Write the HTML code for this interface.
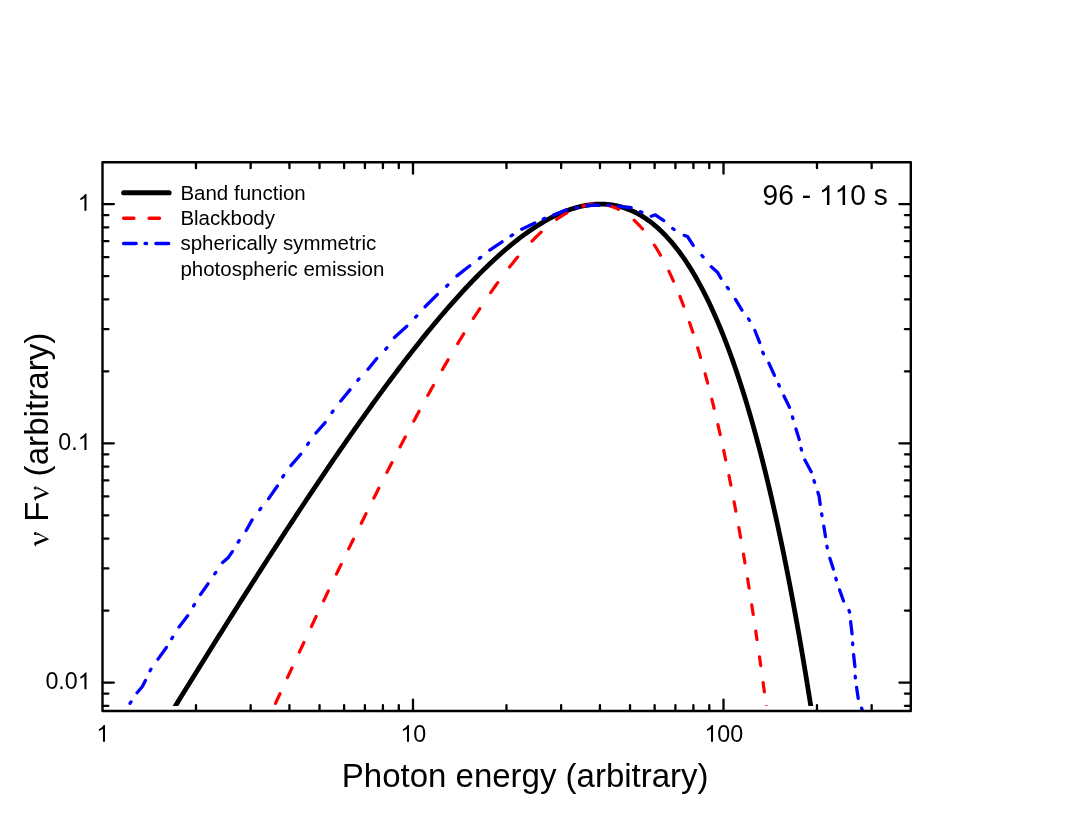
<!DOCTYPE html>
<html><head><meta charset="utf-8"><title>Spectrum 96 - 110 s</title>
<style>html,body{margin:0;padding:0;background:#ffffff;overflow:hidden}body{width:1067px;height:817px;position:relative;font-family:"Liberation Sans",sans-serif}</style></head>
<body>
<svg width="1067" height="817" viewBox="0 0 1067 817" style="position:absolute;left:0;top:0;display:block;will-change:transform">
<rect x="0" y="0" width="1067" height="817" fill="#ffffff"/>
<clipPath id="cp"><rect x="102.5" y="162.3" width="808.3" height="543.7"/></clipPath>
<clipPath id="cf"><rect x="102.5" y="162.3" width="808.3" height="547.7"/></clipPath>
<path d="M169.38 715.75 L171.40 712.46 L173.42 709.18 L175.44 705.90 L177.46 702.63 L179.48 699.35 L181.50 696.08 L183.52 692.81 L185.54 689.54 L187.56 686.27 L189.58 683.01 L191.60 679.75 L193.62 676.49 L195.64 673.24 L197.66 669.98 L199.68 666.73 L201.70 663.49 L203.72 660.24 L205.74 657.00 L207.76 653.76 L209.78 650.52 L211.80 647.29 L213.82 644.06 L215.84 640.83 L217.86 637.60 L219.88 634.38 L221.90 631.16 L223.92 627.94 L225.94 624.73 L227.96 621.52 L229.98 618.31 L232.00 615.11 L234.03 611.91 L236.05 608.71 L238.07 605.52 L240.09 602.33 L242.11 599.14 L244.13 595.96 L246.15 592.78 L248.17 589.61 L250.19 586.44 L252.21 583.27 L254.23 580.11 L256.25 576.95 L258.27 573.79 L260.29 570.64 L262.31 567.49 L264.33 564.35 L266.35 561.21 L268.37 558.07 L270.39 554.94 L272.41 551.82 L274.43 548.69 L276.45 545.58 L278.47 542.46 L280.49 539.36 L282.51 536.25 L284.53 533.15 L286.55 530.06 L288.57 526.97 L290.59 523.89 L292.61 520.81 L294.63 517.74 L296.65 514.67 L298.67 511.61 L300.69 508.55 L302.71 505.50 L304.73 502.46 L306.75 499.42 L308.77 496.38 L310.79 493.36 L312.81 490.33 L314.83 487.32 L316.85 484.31 L318.87 481.30 L320.89 478.31 L322.91 475.32 L324.93 472.33 L326.95 469.35 L328.97 466.38 L330.99 463.42 L333.01 460.46 L335.03 457.51 L337.05 454.57 L339.07 451.63 L341.09 448.71 L343.11 445.79 L345.13 442.87 L347.15 439.97 L349.17 437.07 L351.19 434.18 L353.21 431.30 L355.23 428.43 L357.25 425.56 L359.27 422.70 L361.29 419.86 L363.31 417.02 L365.33 414.19 L367.35 411.37 L369.37 408.55 L371.39 405.75 L373.41 402.96 L375.43 400.17 L377.45 397.40 L379.47 394.63 L381.49 391.88 L383.51 389.13 L385.53 386.40 L387.55 383.68 L389.57 380.96 L391.59 378.26 L393.61 375.57 L395.63 372.89 L397.65 370.22 L399.67 367.56 L401.69 364.91 L403.71 362.28 L405.73 359.65 L407.75 357.04 L409.77 354.45 L411.79 351.86 L413.81 349.29 L415.83 346.73 L417.85 344.18 L419.87 341.64 L421.89 339.12 L423.91 336.62 L425.93 334.12 L427.95 331.64 L429.97 329.18 L431.99 326.73 L434.02 324.29 L436.04 321.87 L438.06 319.47 L440.08 317.07 L442.10 314.70 L444.12 312.34 L446.14 310.00 L448.16 307.67 L450.18 305.36 L452.20 303.07 L454.22 300.79 L456.24 298.53 L458.26 296.29 L460.28 294.07 L462.30 291.86 L464.32 289.68 L466.34 287.51 L468.36 285.36 L470.38 283.23 L472.40 281.12 L474.42 279.03 L476.44 276.96 L478.46 274.91 L480.48 272.88 L482.50 270.87 L484.52 268.88 L486.54 266.92 L488.56 264.98 L490.58 263.06 L492.60 261.16 L494.62 259.28 L496.64 257.43 L498.66 255.60 L500.68 253.80 L502.70 252.02 L504.72 250.27 L506.74 248.54 L508.76 246.83 L510.78 245.16 L512.80 243.50 L514.82 241.88 L516.84 240.28 L518.86 238.71 L520.88 237.17 L522.90 235.66 L524.92 234.17 L526.94 232.72 L528.96 231.29 L530.98 229.90 L533.00 228.53 L535.02 227.20 L537.04 225.90 L539.06 224.63 L541.08 223.39 L543.10 222.18 L545.12 221.01 L547.14 219.88 L549.16 218.77 L551.18 217.71 L553.20 216.67 L555.22 215.68 L557.24 214.72 L559.26 213.80 L561.28 212.91 L563.30 212.07 L565.32 211.26 L567.34 210.49 L569.36 209.77 L571.38 209.08 L573.40 208.44 L575.42 207.83 L577.44 207.27 L579.46 206.75 L581.48 206.28 L583.50 205.85 L585.52 205.47 L587.54 205.13 L589.56 204.84 L591.58 204.59 L593.60 204.40 L595.62 204.25 L597.64 204.15 L599.66 204.10 L601.68 204.11 L603.70 204.16 L605.72 204.27 L607.74 204.43 L609.76 204.65 L611.78 204.92 L613.80 205.24 L615.82 205.62 L617.84 206.06 L619.86 206.56 L621.88 207.12 L623.90 207.74 L625.92 208.41 L627.94 209.16 L629.96 209.96 L631.98 210.83 L634.00 211.76 L636.03 212.75 L638.05 213.82 L640.07 214.95 L642.09 216.15 L644.11 217.42 L646.13 218.76 L648.15 220.18 L650.17 221.66 L652.19 223.22 L654.21 224.86 L656.23 226.57 L658.25 228.36 L660.27 230.23 L662.29 232.18 L664.31 234.21 L666.33 236.32 L668.35 238.51 L670.37 240.79 L672.39 243.16 L674.41 245.61 L676.43 248.15 L678.45 250.79 L680.47 253.51 L682.49 256.33 L684.51 259.24 L686.53 262.24 L688.55 265.35 L690.57 268.55 L692.59 271.85 L694.61 275.25 L696.63 278.76 L698.65 282.37 L700.67 286.09 L702.69 289.91 L704.71 293.85 L706.73 297.89 L708.75 302.05 L710.77 306.32 L712.79 310.71 L714.81 315.22 L716.83 319.85 L718.85 324.59 L720.87 329.47 L722.89 334.46 L724.91 339.59 L726.93 344.84 L728.95 350.22 L730.97 355.74 L732.99 361.39 L735.01 367.18 L737.03 373.11 L739.05 379.17 L741.07 385.39 L743.09 391.74 L745.11 398.25 L747.13 404.90 L749.15 411.71 L751.17 418.67 L753.19 425.79 L755.21 433.07 L757.23 440.51 L759.25 448.11 L761.27 455.88 L763.29 463.82 L765.31 471.93 L767.33 480.21 L769.35 488.67 L771.37 497.31 L773.39 506.13 L775.41 515.14 L777.43 524.33 L779.45 533.72 L781.47 543.30 L783.49 553.07 L785.51 563.05 L787.53 573.22 L789.55 583.60 L791.57 594.19 L793.59 604.99 L795.61 616.01 L797.63 627.24 L799.65 638.70 L801.67 650.38 L803.69 662.29 L805.71 674.43 L807.73 686.80 L809.75 699.41 L811.77 712.27 L813.79 725.37" fill="none" stroke="#000000" stroke-width="4.8" stroke-linejoin="round" clip-path="url(#cp)"/>
<path d="M275.47 703.45 L276.22 701.83 L276.97 700.21 L277.72 698.58 L278.47 696.96 L279.22 695.34 L279.97 693.72 M287.48 677.55 L288.23 675.94 L288.98 674.32 L289.73 672.71 L290.48 671.10 L291.23 669.49 L291.98 667.88 M299.36 652.10 L300.11 650.50 L300.86 648.90 L301.62 647.30 L302.37 645.70 L303.12 644.10 L303.87 642.50 M311.37 626.58 L312.12 624.99 L312.87 623.41 L313.62 621.82 L314.38 620.23 L315.13 618.65 L315.88 617.07 L316.13 616.54 M323.63 600.76 L324.38 599.19 L325.13 597.62 L325.88 596.05 L326.63 594.48 L327.39 592.91 L328.14 591.34 L328.39 590.82 M336.39 574.17 L337.14 572.61 L337.89 571.06 L338.64 569.51 L339.39 567.95 L340.14 566.40 L340.90 564.85 L341.15 564.34 M348.65 548.91 L349.40 547.37 L350.15 545.84 L350.90 544.30 L351.65 542.77 L352.40 541.24 L353.16 539.71 L353.41 539.20 M361.29 523.22 L362.04 521.70 L362.79 520.19 L363.54 518.68 L364.29 517.17 L365.04 515.66 L365.79 514.15 L366.04 513.65 M373.80 498.15 L374.55 496.66 L375.30 495.17 L376.05 493.68 L376.80 492.20 L377.55 490.71 L378.30 489.23 L378.80 488.24 M386.93 472.29 L387.68 470.82 L388.43 469.36 L389.18 467.90 L389.93 466.44 L390.68 464.99 L391.43 463.53 L391.94 462.57 M400.07 446.94 L400.94 445.27 L401.82 443.60 L402.69 441.93 L403.57 440.27 L404.44 438.61 L405.32 436.96 M413.83 421.01 L414.70 419.38 L415.58 417.75 L416.45 416.13 L417.33 414.52 L418.21 412.90 L419.08 411.29 M427.84 395.35 L428.71 393.77 L429.59 392.20 L430.46 390.63 L431.34 389.06 L432.22 387.50 L433.09 385.94 L433.34 385.49 M442.35 369.67 L443.22 368.15 L444.10 366.64 L444.98 365.13 L445.85 363.62 L446.73 362.12 L447.60 360.62 L448.10 359.77 M457.74 343.59 L458.74 341.94 L459.74 340.29 L460.74 338.65 L461.74 337.02 L462.74 335.39 L463.74 333.77 M473.37 318.48 L474.37 316.93 L475.37 315.38 L476.38 313.84 L477.38 312.30 L478.38 310.78 L479.38 309.26 L479.75 308.69 M490.64 292.66 L491.76 291.05 L492.89 289.45 L494.01 287.87 L495.14 286.29 L496.27 284.72 L497.39 283.17 L497.77 282.65 M509.53 267.09 L510.90 265.36 L512.28 263.64 L513.65 261.93 L515.03 260.25 L516.41 258.58 L517.66 257.09 M532.04 241.05 L533.54 239.51 L535.05 238.00 L536.55 236.51 L538.05 235.05 L539.55 233.62 L541.05 232.22 L541.18 232.10 M556.56 219.45 L558.19 218.31 L559.82 217.20 L561.44 216.14 L563.07 215.12 L564.69 214.13 L566.32 213.19 L566.57 213.05 M582.96 206.11 L584.71 205.65 L586.46 205.24 L588.21 204.90 L589.96 204.62 L591.71 204.39 L593.34 204.24 M608.23 205.46 L609.85 205.89 L611.48 206.39 L613.11 206.94 L614.73 207.56 L616.36 208.25 L617.99 209.00 L618.49 209.25 M634.12 220.23 L635.50 221.52 L636.87 222.86 L638.25 224.26 L639.63 225.72 L641.00 227.23 L642.38 228.81 L642.50 228.95 M654.39 245.07 L655.39 246.64 L656.39 248.24 L657.39 249.88 L658.39 251.55 L659.39 253.26 L660.39 255.01 L660.52 255.23 M668.90 271.28 L669.65 272.85 L670.40 274.44 L671.15 276.04 L671.90 277.67 L672.65 279.33 L673.40 281.00 M679.91 296.45 L680.53 298.02 L681.16 299.62 L681.78 301.22 L682.41 302.85 L683.04 304.49 L683.66 306.15 M689.54 322.55 L690.04 324.02 L690.54 325.50 L691.04 326.99 L691.54 328.48 L692.04 330.00 L692.54 331.52 L692.79 332.28 M697.67 347.78 L698.17 349.44 L698.67 351.10 L699.17 352.78 L699.67 354.46 L700.17 356.16 L700.55 357.45 M705.18 373.84 L705.55 375.21 L705.93 376.59 L706.30 377.98 L706.68 379.38 L707.05 380.78 L707.43 382.19 L707.68 383.14 M711.81 399.18 L712.18 400.68 L712.56 402.19 L712.93 403.71 L713.31 405.24 L713.68 406.77 L714.06 408.31 M717.94 424.66 L718.31 426.29 L718.69 427.92 L719.06 429.57 L719.44 431.21 L719.81 432.87 L720.19 434.54 M723.69 450.46 L723.94 451.62 L724.19 452.79 L724.44 453.96 L724.69 455.14 L724.94 456.32 L725.19 457.50 L725.44 458.68 L725.69 459.87 M728.95 475.67 L729.20 476.91 L729.45 478.15 L729.70 479.40 L729.95 480.65 L730.20 481.91 L730.45 483.17 L730.70 484.43 L730.82 485.07 M734.08 501.86 L734.33 503.18 L734.58 504.50 L734.83 505.83 L735.08 507.16 L735.33 508.49 L735.58 509.83 L735.83 511.17 M738.83 527.59 L739.08 528.98 L739.33 530.38 L739.58 531.78 L739.83 533.19 L740.08 534.60 L740.33 536.01 L740.58 537.43 M743.46 554.03 L743.71 555.50 L743.96 556.98 L744.21 558.45 L744.46 559.94 L744.71 561.42 L744.96 562.91 M747.59 578.82 L747.84 580.36 L748.09 581.90 L748.34 583.45 L748.59 585.00 L748.84 586.55 L749.09 588.12 M751.71 604.76 L751.96 606.38 L752.21 607.99 L752.46 609.61 L752.71 611.23 L752.96 612.86 L753.21 614.50 M755.72 631.07 L755.84 631.91 L755.97 632.76 L756.09 633.60 L756.22 634.44 L756.34 635.29 L756.47 636.14 L756.59 636.98 L756.72 637.83 L756.84 638.68 L756.97 639.53 M759.47 656.80 L759.59 657.67 L759.72 658.55 L759.84 659.43 L759.97 660.30 L760.10 661.18 L760.22 662.07 L760.35 662.95 L760.47 663.83 L760.60 664.72 L760.72 665.60 M763.10 682.66 L763.22 683.57 L763.35 684.48 L763.47 685.39 L763.60 686.31 L763.72 687.22 L763.85 688.14 L763.97 689.05 L764.10 689.97 L764.22 690.89 L764.35 691.81 M766.35 706.71 L766.48 707.65 L766.60 708.59 L766.73 709.54 L766.85 710.48 L766.98 711.43 L767.10 712.38 L767.23 713.32 L767.35 714.27 L767.48 715.23 L767.60 716.18" fill="none" stroke="#ff0000" stroke-width="3.2" stroke-linecap="round" stroke-linejoin="round" clip-path="url(#cp)"/>
<path d="M130.03 703.31 L130.97 701.89 M137.06 692.78 L142.20 686.70 L145.45 680.49 M150.07 670.73 L150.93 669.27 M158.02 659.15 L166.38 647.45 M171.75 638.62 L172.65 637.18 M179.04 627.06 L187.66 615.84 M193.57 605.93 L194.43 604.47 M200.52 594.45 L207.98 583.85 M214.82 573.80 L215.78 572.40 M222.61 562.44 L228.40 557.40 L232.39 551.65 M238.24 542.01 L239.16 540.59 M246.17 530.52 L252.13 519.88 M259.78 509.67 L260.82 508.33 M268.61 498.65 L277.39 486.05 M282.74 476.91 L283.66 475.49 M290.86 465.58 L300.74 454.22 M307.61 444.39 L308.59 443.01 M315.96 432.99 L325.14 422.61 M332.00 412.49 L333.00 411.11 M340.75 401.07 L349.95 389.83 M357.84 380.24 L358.96 378.96 M368.04 369.27 L376.76 358.43 M385.75 349.15 L386.85 347.85 M394.41 337.43 L406.79 326.17 M415.62 317.12 L416.78 315.88 M425.09 306.71 L437.41 294.39 M446.58 286.19 L447.82 285.01 M456.93 275.86 L469.77 265.74 M479.33 258.42 L480.67 257.38 M489.75 250.19 L502.05 241.81 M511.09 235.86 L512.51 234.94 M521.70 229.17 L534.80 223.03 M543.32 219.03 L544.88 218.37 M553.61 215.10 L566.59 209.90 M575.77 207.87 L577.43 207.53 M586.95 205.75 L593.00 205.20 L598.85 205.38 M608.05 205.06 L609.75 205.14 M618.75 206.26 L631.15 207.74 M640.33 211.65 L641.87 212.35 M651.22 216.22 L655.30 214.80 L663.75 220.59 M672.71 228.50 L674.09 229.50 M684.22 235.38 L687.50 236.50 L693.20 245.44 M701.95 255.55 L703.05 256.85 M711.31 266.86 L717.40 272.20 L720.92 278.23 M727.32 287.40 L728.28 288.80 M735.48 299.37 L741.92 310.03 M748.54 318.88 L749.46 320.32 M754.90 330.51 L759.70 342.59 M762.75 352.22 L763.45 353.78 M768.93 363.30 L774.47 375.40 M778.65 384.53 L779.35 386.07 M783.94 396.09 L789.46 407.31 M792.46 416.88 L792.94 418.52 M795.96 429.02 L799.24 439.48 M801.08 448.38 L801.52 450.02 M804.86 460.08 L811.24 471.72 M814.04 480.69 L814.56 482.31 M817.88 492.42 L819.00 495.60 L820.22 504.46 M821.66 513.86 L821.94 515.54 M823.79 526.14 L825.51 536.66 M826.93 546.27 L827.27 547.93 M829.87 558.32 L833.33 569.08 M835.86 578.29 L836.34 579.91 M839.58 589.92 L843.52 600.98 M849.02 610.50 L849.58 612.10 M850.66 621.75 L852.04 633.85 M852.64 642.85 L852.76 644.55 M853.56 654.55 L854.94 666.65 M855.24 676.25 L855.36 677.95 M856.58 687.34 L858.22 698.46 M861.61 708.10 L862.19 709.70" fill="none" stroke="#0000ff" stroke-width="3.3" stroke-linecap="round" stroke-linejoin="round" clip-path="url(#cf)"/>
<path d="M195.97 711.00 v-5.90 M195.97 162.30 v5.90 M250.65 711.00 v-5.90 M250.65 162.30 v5.90 M289.44 711.00 v-5.90 M289.44 162.30 v5.90 M319.53 711.00 v-5.90 M319.53 162.30 v5.90 M344.12 711.00 v-5.90 M344.12 162.30 v5.90 M364.90 711.00 v-5.90 M364.90 162.30 v5.90 M382.91 711.00 v-5.90 M382.91 162.30 v5.90 M398.79 711.00 v-5.90 M398.79 162.30 v5.90 M413.00 711.00 v-11.40 M413.00 162.30 v11.40 M506.47 711.00 v-5.90 M506.47 162.30 v5.90 M561.15 711.00 v-5.90 M561.15 162.30 v5.90 M599.94 711.00 v-5.90 M599.94 162.30 v5.90 M630.03 711.00 v-5.90 M630.03 162.30 v5.90 M654.62 711.00 v-5.90 M654.62 162.30 v5.90 M675.40 711.00 v-5.90 M675.40 162.30 v5.90 M693.41 711.00 v-5.90 M693.41 162.30 v5.90 M709.29 711.00 v-5.90 M709.29 162.30 v5.90 M723.50 711.00 v-11.40 M723.50 162.30 v11.40 M816.97 711.00 v-5.90 M816.97 162.30 v5.90 M871.65 711.00 v-5.90 M871.65 162.30 v5.90 M102.50 204.10 h11.40 M910.80 204.10 h-11.40 M102.50 443.35 h11.40 M910.80 443.35 h-11.40 M102.50 371.33 h5.90 M910.80 371.33 h-5.90 M102.50 329.20 h5.90 M910.80 329.20 h-5.90 M102.50 299.31 h5.90 M910.80 299.31 h-5.90 M102.50 276.12 h5.90 M910.80 276.12 h-5.90 M102.50 257.18 h5.90 M910.80 257.18 h-5.90 M102.50 241.16 h5.90 M910.80 241.16 h-5.90 M102.50 227.29 h5.90 M910.80 227.29 h-5.90 M102.50 215.05 h5.90 M910.80 215.05 h-5.90 M102.50 682.60 h11.40 M910.80 682.60 h-11.40 M102.50 610.58 h5.90 M910.80 610.58 h-5.90 M102.50 568.45 h5.90 M910.80 568.45 h-5.90 M102.50 538.56 h5.90 M910.80 538.56 h-5.90 M102.50 515.37 h5.90 M910.80 515.37 h-5.90 M102.50 496.43 h5.90 M910.80 496.43 h-5.90 M102.50 480.41 h5.90 M910.80 480.41 h-5.90 M102.50 466.54 h5.90 M910.80 466.54 h-5.90 M102.50 454.30 h5.90 M910.80 454.30 h-5.90 M102.50 705.79 h5.90 M910.80 705.79 h-5.90 M102.50 693.55 h5.90 M910.80 693.55 h-5.90" fill="none" stroke="#000000" stroke-width="2.3" stroke-linecap="round"/>
<rect x="102.50" y="162.30" width="808.30" height="548.70" fill="none" stroke="#000000" stroke-width="2.4" stroke-linejoin="round"/>
<path d="M123.7 192.75 H169.1" stroke="#000000" stroke-width="5.1" stroke-linecap="round" fill="none"/>
<path d="M123.6 218.2 H133.9 M149.1 218.2 H159.5" stroke="#ff0000" stroke-width="3.4" stroke-linecap="round" fill="none"/>
<path d="M123.6 243.55 H136.2 M145.1 243.55 H146.6 M155.9 243.55 H168.7" stroke="#0000ff" stroke-width="3.4" stroke-linecap="round" fill="none"/>
<g style="font-family:&quot;Liberation Sans&quot;,sans-serif" fill="#000000">
<g transform="translate(77.79 210.80) scale(1 1.039)"><path transform="translate(0.00 0) scale(0.01138 -0.01091)" d="M763 0H583V1147Q518 1085 412.5 1023Q307 961 223 930V1104Q374 1175 487 1276Q600 1377 647 1472H763Z"/></g>
<g transform="translate(58.36 450.05) scale(1 1.039)"><text x="0.00" y="0" font-size="23.30" style="white-space:pre">0.</text><path transform="translate(19.43 0) scale(0.01138 -0.01091)" d="M763 0H583V1147Q518 1085 412.5 1023Q307 961 223 930V1104Q374 1175 487 1276Q600 1377 647 1472H763Z"/></g>
<g transform="translate(45.40 689.30) scale(1 1.039)"><text x="0.00" y="0" font-size="23.30" style="white-space:pre">0.0</text><path transform="translate(32.39 0) scale(0.01138 -0.01091)" d="M763 0H583V1147Q518 1085 412.5 1023Q307 961 223 930V1104Q374 1175 487 1276Q600 1377 647 1472H763Z"/></g>
<g transform="translate(96.32 741.70) scale(1 1.039)"><path transform="translate(0.00 0) scale(0.01138 -0.01091)" d="M763 0H583V1147Q518 1085 412.5 1023Q307 961 223 930V1104Q374 1175 487 1276Q600 1377 647 1472H763Z"/></g>
<g transform="translate(400.34 741.70) scale(1 1.039)"><path transform="translate(0.00 0) scale(0.01138 -0.01091)" d="M763 0H583V1147Q518 1085 412.5 1023Q307 961 223 930V1104Q374 1175 487 1276Q600 1377 647 1472H763Z"/><text x="12.96" y="0" font-size="23.30" style="white-space:pre">0</text></g>
<g transform="translate(704.36 741.70) scale(1 1.039)"><path transform="translate(0.00 0) scale(0.01138 -0.01091)" d="M763 0H583V1147Q518 1085 412.5 1023Q307 961 223 930V1104Q374 1175 487 1276Q600 1377 647 1472H763Z"/><text x="12.96" y="0" font-size="23.30" style="white-space:pre">00</text></g>
<text x="525.20" y="786.60" font-size="33.00" text-anchor="middle">Photon energy (arbitrary)</text>
<path transform="translate(0 45.65)" d="M34.21 496.88L45.7 492.3L48.75 493.25L48.75 493.75L36.12 499.11L35.48 501.02L34.37 499.1Z M37.0 486.75L48.75 493.25L45.6 492.45L38.2 489.1Z M33.85 487.95a1.8 1.5 0 1 0 3.6 0a1.8 1.5 0 1 0 -3.6 0Z M36.5 486.7L38.6 487.6L38.3 489.15L36.6 489.3Z"/>
<text transform="translate(48.20 521.80) rotate(-90)" font-size="33.00">F</text>
<path transform="translate(0 0.00)" d="M34.21 496.88L45.7 492.3L48.75 493.25L48.75 493.75L36.12 499.11L35.48 501.02L34.37 499.1Z M37.0 486.75L48.75 493.25L45.6 492.45L38.2 489.1Z M33.85 487.95a1.8 1.5 0 1 0 3.6 0a1.8 1.5 0 1 0 -3.6 0Z M36.5 486.7L38.6 487.6L38.3 489.15L36.6 489.3Z"/>
<text transform="translate(48.20 476.40) rotate(-90)" font-size="33.20">(arbitrary)</text>
<text x="180.40" y="200.00" font-size="20.50">Band function</text>
<text x="180.40" y="225.30" font-size="20.50">Blackbody</text>
<text x="180.40" y="250.30" font-size="20.50">spherically symmetric</text>
<text x="180.40" y="275.60" font-size="20.50">photospheric emission</text>
<g transform="translate(762.60 205.00) scale(1 1.017)"><text x="0.00" y="0" font-size="28.15" style="white-space:pre">96 - </text><path transform="translate(56.33 0) scale(0.01375 -0.01318)" d="M763 0H583V1147Q518 1085 412.5 1023Q307 961 223 930V1104Q374 1175 487 1276Q600 1377 647 1472H763Z"/><path transform="translate(71.98 0) scale(0.01375 -0.01318)" d="M763 0H583V1147Q518 1085 412.5 1023Q307 961 223 930V1104Q374 1175 487 1276Q600 1377 647 1472H763Z"/><text x="87.64" y="0" font-size="28.15" style="white-space:pre">0 s</text></g>
</g>
</svg>
</body></html>
